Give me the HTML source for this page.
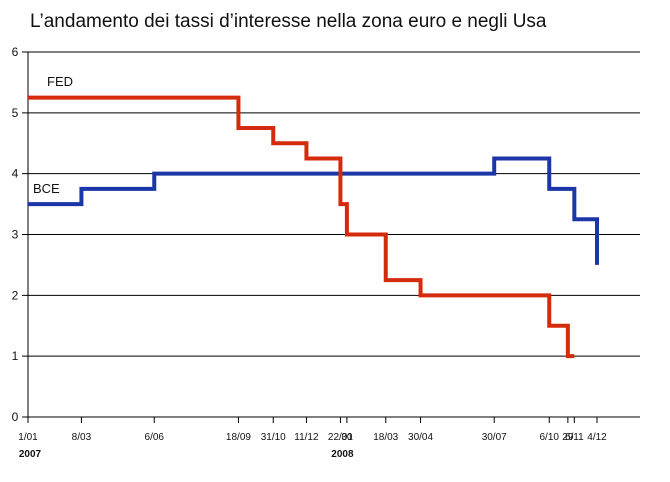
<!DOCTYPE html>
<html><head><meta charset="utf-8"><style>
body{margin:0;background:#fff;}
svg text{font-family:"Liberation Sans",Arial,sans-serif;}
</style></head><body>
<svg width="670" height="477" viewBox="0 0 670 477" xmlns="http://www.w3.org/2000/svg">
<text x="30" y="27" font-size="19" fill="#111">L’andamento dei tassi d’interesse nella zona euro e negli Usa</text>
<g id="grid"></g><g id="axes"></g><g id="series"></g>
<text x="47" y="86" font-size="13" fill="#111">FED</text>
<text x="33" y="193" font-size="13" fill="#111">BCE</text>
</svg>
<script>
const yTicks=[0,1,2,3,4,5,6];
const xTickDates=["2007-01-01","2007-03-08","2007-06-06","2007-09-18","2007-10-31","2007-12-11","2008-01-22","2008-01-30","2008-03-18","2008-04-30","2008-07-30","2008-10-06","2008-10-29","2008-11-06","2008-12-04"];
const xTickLabels=["1/01","8/03","6/06","18/09","31/10","11/12","22/01","30","18/03","30/04","30/07","6/10","29","6/11","4/12"];
const fedDates=["2007-01-01","2007-09-18","2007-10-31","2007-12-11","2008-01-22","2008-01-30","2008-03-18","2008-04-30","2008-10-06","2008-10-29","2008-11-06"];
const fedValues=[5.25,4.75,4.5,4.25,3.5,3.0,2.25,2.0,1.5,1.0,1.0];
const bceDates=["2007-01-01","2007-03-08","2007-06-06","2008-07-30","2008-10-06","2008-11-06","2008-12-04"];
const bceValues=[3.5,3.75,4.0,4.25,3.75,3.25,2.5];

const NS="http://www.w3.org/2000/svg";
const X0=28,X1=597,XR=640,Y0=417,YT=52;
const d0=Date.parse("2007-01-01"),d1=Date.parse("2008-12-04");
// piecewise mapping through tick dates (evenly-proportioned axis of reference)
function x(d){return X0+(Date.parse(d)-d0)/(d1-d0)*(X1-X0);}
function y(v){return Y0-v/6*(Y0-YT);}
function el(tag,attrs,parent){const e=document.createElementNS(NS,tag);for(const k in attrs)e.setAttribute(k,attrs[k]);parent.appendChild(e);return e;}
const grid=document.getElementById('grid'),axes=document.getElementById('axes'),series=document.getElementById('series');
yTicks.forEach(v=>{
  const l=el('line',{x1:X0-6,x2:XR,y1:y(v),y2:y(v),stroke:'#000','stroke-width':1},grid);
  
  
  const t=el('text',{x:15,y:y(v)+4,'font-size':12,'text-anchor':'middle',fill:'#111'},axes);
  t.textContent=v;
  
  
});
const ya=el('line',{x1:X0,x2:X0,y1:YT,y2:Y0,stroke:'#000','stroke-width':1},axes);


xTickDates.forEach((d,i)=>{
  const xx=x(d);
  const tk=el('line',{x1:xx,x2:xx,y1:Y0,y2:Y0+6,stroke:'#000','stroke-width':1},axes);
  
  
  const t=el('text',{x:xx,y:Y0+23,'font-size':10,'text-anchor':'middle',fill:'#111'},axes);
  t.textContent=xTickLabels[i];
  
  
});
[["2007",X0],["2008",x("2008-01-22")]].forEach(p=>{
  const t=el('text',{x:p[1]+2,y:Y0+40,'font-size':10,'font-weight':'bold','text-anchor':'middle',fill:'#111'},axes);
  t.textContent=p[0];
  
  
});
function step(dates,vals,color,name){
  let p='M'+x(dates[0])+','+y(vals[0]);
  for(let i=1;i<dates.length;i++){p+=' H'+x(dates[i])+' V'+y(vals[i]);}
  const path=el('path',{d:p,fill:'none',stroke:color,'stroke-width':4,'stroke-linejoin':'miter'},series);
  
  
}
step(bceDates,bceValues,'#1b36a6','bce-line');
step(fedDates,fedValues,'#d42b0c','fed-line');
</script>
</body></html>
